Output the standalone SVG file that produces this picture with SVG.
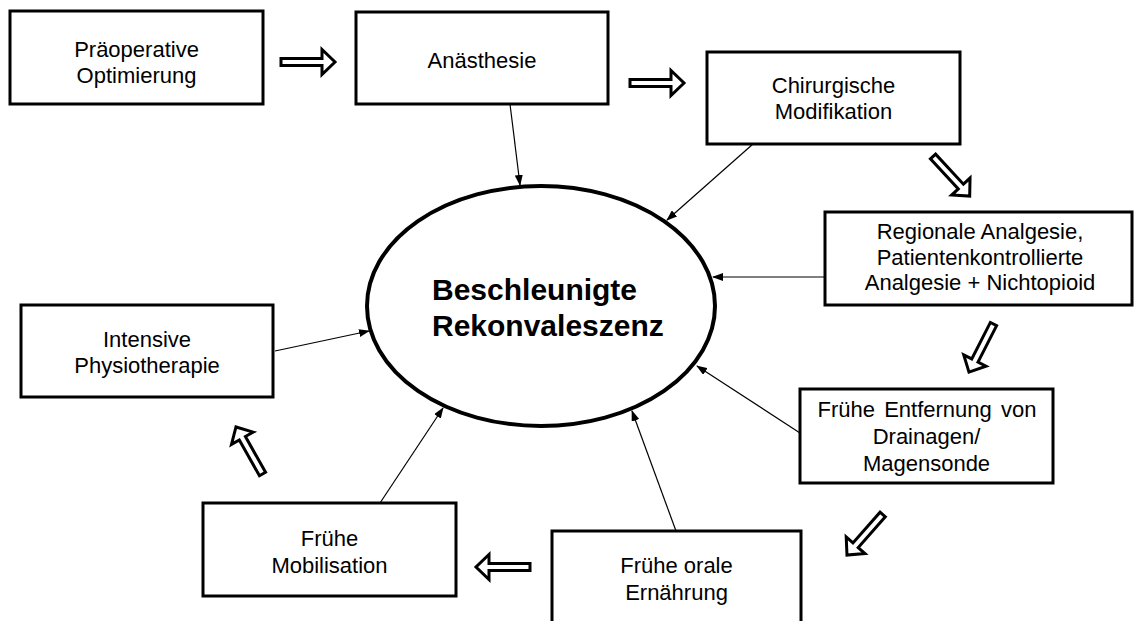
<svg xmlns="http://www.w3.org/2000/svg" width="1135" height="621" viewBox="0 0 1135 621">
<style>
.box{fill:#fff;stroke:#000;stroke-width:3}
.t{font-family:"Liberation Sans",Arial,sans-serif;font-size:22px;fill:#000;text-anchor:middle}
.title{font-family:"Liberation Sans",Arial,sans-serif;font-size:30px;font-weight:bold;fill:#000}
.con{stroke:#000;stroke-width:1.2;fill:none;marker-end:url(#ah)}
.ha{fill:#fff;stroke:#000;stroke-width:3;stroke-linejoin:miter}
</style>
<defs>
<marker id="ah" markerUnits="userSpaceOnUse" markerWidth="11" markerHeight="8" refX="10" refY="4" orient="auto">
<path d="M0,0 L11,4 L0,8 z" fill="#000"/>
</marker>
<polygon id="hollow" points="0,-3.5 41,-3.5 41,-12.5 54,0 41,12.5 41,3.5 0,3.5"/>
</defs>
<rect width="1135" height="621" fill="#fff"/>

<g id="connectors">
<line class="con" x1="510" y1="104" x2="520" y2="185"/>
<line class="con" x1="753" y1="144" x2="667" y2="220"/>
<line class="con" x1="825" y1="277" x2="713" y2="277"/>
<line class="con" x1="800" y1="433" x2="697" y2="366"/>
<line class="con" x1="676" y1="531" x2="632" y2="411"/>
<line class="con" x1="380" y1="503" x2="443" y2="408"/>
<line class="con" x1="275" y1="351" x2="369" y2="331"/>
<use href="#hollow" class="ha" transform="translate(281,62)"/>
<use href="#hollow" class="ha" transform="translate(630,83)"/>
<use href="#hollow" class="ha" transform="translate(933,156.5) rotate(47.2)"/>
<use href="#hollow" class="ha" transform="translate(993.5,324) rotate(117)"/>
<use href="#hollow" class="ha" transform="translate(882.7,514.5) rotate(131.4)"/>
<use href="#hollow" class="ha" transform="translate(530,567) rotate(180)"/>
<use href="#hollow" class="ha" transform="translate(262.5,474) rotate(-119.4)"/>
</g>

<g id="center">
<ellipse cx="541" cy="306" rx="174" ry="120" fill="#fff" stroke="#000" stroke-width="4"/>
<text class="title" x="432" y="300">Beschleunigte</text>
<text class="title" x="432" y="336">Rekonvaleszenz</text>
</g>

<g id="praeop">
<rect class="box" x="10" y="11" width="253" height="93"/>
<text class="t" x="136.5" y="57">Präoperative</text>
<text class="t" x="136.5" y="83">Optimierung</text>
</g>

<g id="anaesthesie">
<rect class="box" x="356" y="12" width="252" height="92"/>
<text class="t" x="482" y="68">Anästhesie</text>
</g>

<g id="chirurgie">
<rect class="box" x="707" y="52" width="253" height="92"/>
<text class="t" x="833.5" y="93">Chirurgische</text>
<text class="t" x="833.5" y="119">Modifikation</text>
</g>

<g id="analgesie">
<rect class="box" x="825" y="212" width="307" height="93"/>
<text class="t" x="980" y="239">Regionale Analgesie,</text>
<text class="t" x="980" y="265">Patientenkontrollierte</text>
<text class="t" x="980" y="290">Analgesie + Nichtopioid</text>
</g>

<g id="drainagen">
<rect class="box" x="800" y="389" width="253" height="94"/>
<text class="t" x="927" y="417" word-spacing="3">Frühe Entfernung von</text>
<text class="t" x="926.5" y="444">Drainagen/</text>
<text class="t" x="926.5" y="471">Magensonde</text>
</g>

<g id="ernaehrung">
<rect class="box" x="552" y="531" width="249" height="95"/>
<text class="t" x="676.5" y="573">Frühe orale</text>
<text class="t" x="676.5" y="600">Ernährung</text>
</g>

<g id="mobilisation">
<rect class="box" x="203" y="503" width="253" height="93"/>
<text class="t" x="329.5" y="546">Frühe</text>
<text class="t" x="329.5" y="573">Mobilisation</text>
</g>

<g id="physio">
<rect class="box" x="21" y="305" width="252" height="92"/>
<text class="t" x="147" y="347">Intensive</text>
<text class="t" x="147" y="373">Physiotherapie</text>
</g>
</svg>
